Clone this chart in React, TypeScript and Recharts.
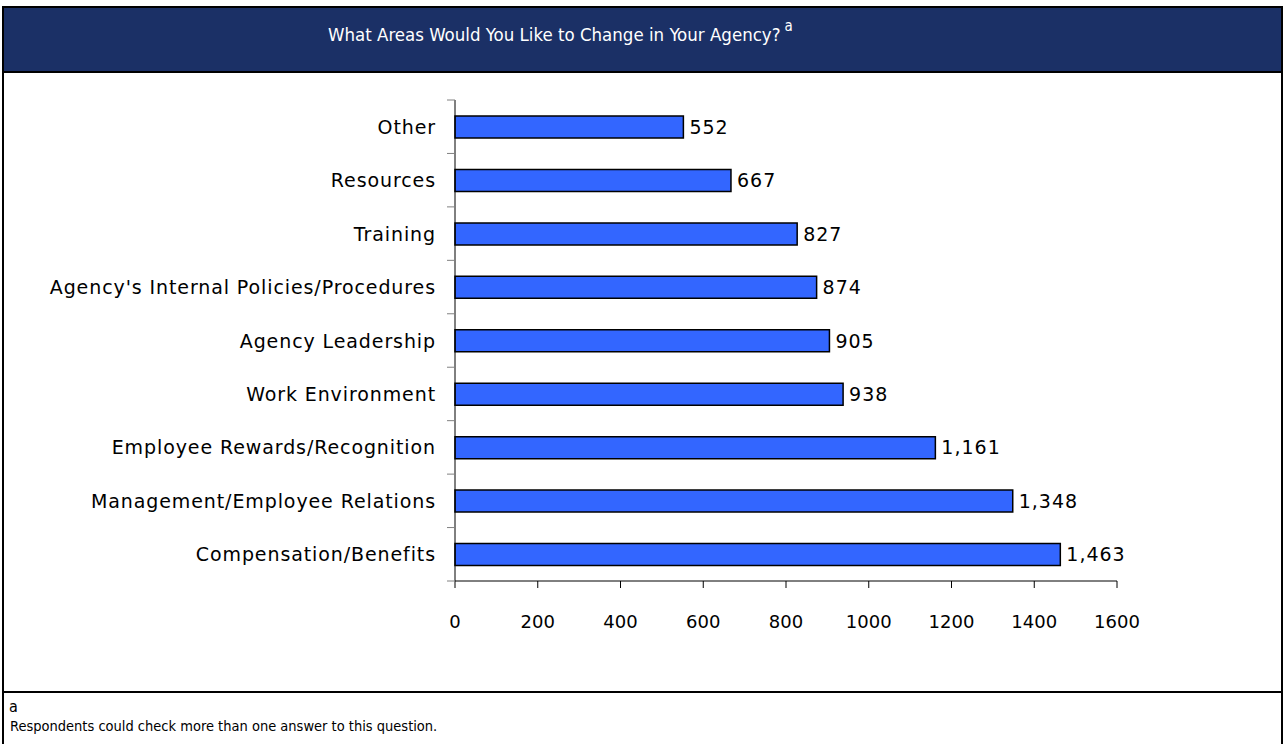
import React from "react";
import { BarChart, Bar, XAxis, YAxis, LabelList } from "recharts";

const categories = [
  "Other",
  "Resources",
  "Training",
  "Agency's Internal Policies/Procedures",
  "Agency Leadership",
  "Work Environment",
  "Employee Rewards/Recognition",
  "Management/Employee Relations",
  "Compensation/Benefits",
];
const counts = [552, 667, 827, 874, 905, 938, 1161, 1348, 1463];
const xTicks = [0, 200, 400, 600, 800, 1000, 1200, 1400, 1600];

const title = "What Areas Would You Like to Change in Your Agency?";
const footnote = "Respondents could check more than one answer to this question.";

const data = categories.map((c, i) => ({ name: c, value: counts[i] }));

const FONT = "'DejaVu Sans', sans-serif";
const FONT_C = "'DejaVu Sans Condensed', 'DejaVu Sans', sans-serif";
const CHART_W = 1285;
const CHART_H = 744;
const MARGIN = { top: 100, right: 168, bottom: 103, left: 15 };
const YAXIS_W = 440;
const XAXIS_H = 60;
const plotH = CHART_H - MARGIN.top - MARGIN.bottom - XAXIS_H;
const band = plotH / categories.length;

const YTick = (props: any) => {
  const { x, y, payload, index } = props;
  return (
    <g>
      <line x1={x - 8} x2={x} y1={y - band / 2} y2={y - band / 2} stroke="#808080" strokeWidth={1} />
      {index === categories.length - 1 && (
        <line x1={x - 8} x2={x} y1={y + band / 2} y2={y + band / 2} stroke="#808080" strokeWidth={1} />
      )}
      <text
        x={x - 19}
        y={y}
        textAnchor="end"
        dominantBaseline="central"
        fontSize={19}
        letterSpacing={0.9}
        fill="#000"
        fontFamily={FONT}
      >
        {payload.value}
      </text>
    </g>
  );
};

export default function App() {
  return (
    <div style={{ position: "absolute", left: 0, top: 0, width: 1285, height: 744, background: "#fff", overflow: "hidden" }}>
      <div
        style={{
          position: "absolute",
          left: 2,
          top: 6,
          width: 1277,
          height: 740,
          border: "2px solid #000",
          boxSizing: "content-box",
        }}
      />
      <div
        style={{
          position: "absolute",
          left: 4,
          top: 8,
          width: 1277,
          height: 63,
          background: "#1B3066",
          borderBottom: "2px solid #000",
        }}
      />
      <div
        style={{
          position: "absolute",
          left: 328,
          top: 11,
          color: "#fff",
          fontFamily: FONT_C,
          fontSize: 18.5,
          letterSpacing: 0,
          whiteSpace: "nowrap",
          lineHeight: "30px",
        }}
      >
        {title}
        <sup style={{ fontSize: 15, marginLeft: 4, verticalAlign: 10 }}>a</sup>
      </div>
      <div style={{ position: "absolute", left: 4, top: 691, width: 1277, height: 2, background: "#000" }} />
      <div style={{ position: "absolute", left: 9, top: 697, fontFamily: FONT_C, fontSize: 16, color: "#000" }}>a</div>
      <div
        style={{
          position: "absolute",
          left: 10,
          top: 718,
          fontFamily: FONT_C,
          fontSize: 14.5,
          color: "#000",
          whiteSpace: "nowrap",
        }}
      >
        {footnote}
      </div>
      <div style={{ position: "absolute", left: 0, top: 0 }}>
        <BarChart width={CHART_W} height={CHART_H} data={data} layout="vertical" margin={MARGIN}>
          <XAxis
            type="number"
            domain={[0, 1600]}
            ticks={xTicks}
            height={XAXIS_H}
            tickSize={7}
            tickMargin={27}
            stroke="#000"
            tick={{ fill: "#000", fontSize: 18, fontFamily: FONT }}
            tickLine={{ stroke: "#000" }}
            interval={0}
          />
          <YAxis
            type="category"
            dataKey="name"
            width={YAXIS_W}
            tickSize={0}
            tickMargin={0}
            tickLine={false}
            stroke="#000"
            tick={<YTick />}
            interval={0}
          />
          <Bar dataKey="value" fill="#3366FF" stroke="#000" strokeWidth={1.5} barSize={22} isAnimationActive={false}>
            <LabelList
              dataKey="value"
              position="right"
              offset={6}
              formatter={(v: any) => Number(v).toLocaleString("en-US")}
              style={{ fill: "#000", fontSize: 19, fontFamily: FONT, letterSpacing: 1 }}
            />
          </Bar>
        </BarChart>
      </div>
    </div>
  );
}
